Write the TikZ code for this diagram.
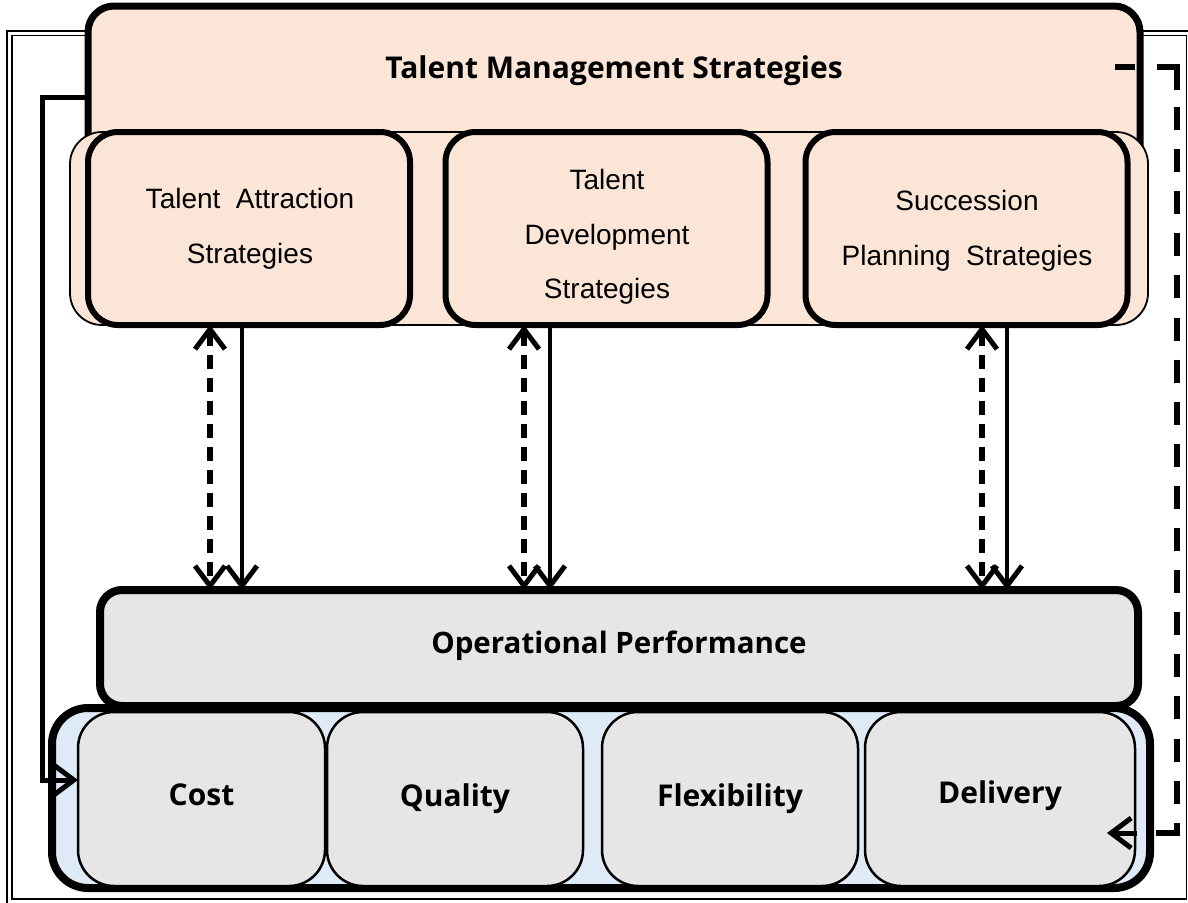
\documentclass[tikz,border=0pt]{standalone}
\usepackage{fontspec}
\setmainfont{Liberation Sans}
\newfontfamily\boldfam{Open Sans}
\usetikzlibrary{arrows.meta,calc}
\definecolor{peach}{HTML}{FBE5D6}
\definecolor{lgray}{HTML}{E6E6E6}
\definecolor{lblue}{HTML}{DEEBF7}
\begin{document}
\begin{tikzpicture}[x=1pt,y=-1pt,
  every node/.style={inner sep=0pt, outer sep=0pt},
  tmsbox/.style={draw, line width=7pt, rounded corners=26pt, fill=peach},
  titletext/.style={font=\boldfam\bfseries\fontsize{30}{34}\selectfont},
  stripbox/.style={draw, line width=1.8pt, rounded corners=32pt, fill=peach},
  subbox/.style={draw, line width=6pt, rounded corners=30pt, fill=peach,
    minimum width=322pt, minimum height=193pt},
  subtext/.style={align=center, font=\fontsize{28}{54.5}\selectfont},
  opbox/.style={draw, line width=8pt, rounded corners=22pt, fill=lgray,
    font=\boldfam\bfseries\fontsize{29.5}{34}\selectfont},
  contbox/.style={draw, line width=8pt, rounded corners=36pt, fill=lblue},
  perfbox/.style={draw, line width=2.5pt, rounded corners=36pt, fill=lgray,
    minimum height=174pt, font=\boldfam\bfseries\fontsize{30}{34}\selectfont},
  frameline/.style={draw, line width=1.6pt},
  >={Straight Barb[length=20pt,width=30pt,line width=5pt]},
  dasharrow/.style={line width=5.5pt, dash pattern=on 14pt off 9pt, <->},
  solidarrow/.style={line width=3.5pt, ->},
  conn/.style={line width=5pt, ->},
  dseg/.style={line width=5.5pt, line cap=butt, miter limit=4}
]
\useasboundingbox (0,0) rectangle (1188,902);
\fill[white] (0,0) rectangle (1188,902);
% outer double frame
\draw[frameline] (7,31) rectangle (1192,906);
\draw[frameline] (12,35.5) rectangle (1186.5,899);

% top block
\node[tmsbox, minimum width=1052pt, minimum height=182pt] (tms) at (614,97) {};
\node[titletext] (tmst) at (614,71) {Talent Management Strategies};
\node[stripbox, minimum width=1078pt, minimum height=193pt] (strip) at (609,228.5) {};
\node[subbox] (sa) at (249,228.5) {};
\node[subbox] (sd) at (606.5,228.5) {};
\node[subbox] (ss) at (966.5,228.5) {};
\node[subtext] (sat) at (250,229) {Talent\ \ Attraction\\Strategies};
\node[subtext] (sdt) at (607,237) {Talent\\Development\\Strategies};
\node[subtext] (sst) at (967,231) {Succession\\Planning\ \ Strategies};

% bottom block
\node[contbox, minimum width=1098pt, minimum height=180pt] (cont) at (601,798) {};
\node[perfbox, minimum width=247pt] (cost) at (201.5,799) {\raisebox{9pt}{Cost}};
\node[perfbox, minimum width=256pt] (quality) at (455,799) {\raisebox{5pt}{Quality}};
\node[perfbox, minimum width=256pt] (flex) at (730,799) {\raisebox{5pt}{Flexibility}};
\node[perfbox, minimum width=270pt] (deliv) at (1000,799) {\raisebox{14pt}{Delivery}};
\node[opbox, minimum width=1038pt, minimum height=116pt] (op) at (619,648) {\raisebox{11pt}{Operational Performance}};

% arrow columns
\coordinate (d1) at (210,0);
\coordinate (s1) at (242,0);
\coordinate (d2) at (524,0);
\coordinate (s2) at (550,0);
\coordinate (d3) at (982,0);
\coordinate (s3) at (1007,0);
\draw[dasharrow] (sa.south -| d1) -- (op.north -| d1);
\draw[solidarrow] (sa.south -| s1) -- (op.north -| s1);
\draw[dasharrow] (sd.south -| d2) -- (op.north -| d2);
\draw[solidarrow] (sd.south -| s2) -- (op.north -| s2);
\draw[dasharrow] (ss.south -| d3) -- (op.north -| d3);
\draw[solidarrow] (ss.south -| s3) -- (op.north -| s3);

% feedback connectors
\coordinate (lc) at (42,780);
\draw[conn] (tms.west) -| (lc) -- (cost.west |- lc);

% dashed feedback connector (dashes drawn one by one)
\coordinate (rs) at (1115,67);
\coordinate (rt) at (1177,67);
\coordinate (rc) at (1177,833);
\coordinate (re) at (1107,833);
\draw[dseg] (rs) -- ++(20,0);
\draw[dseg] ($(rt)+(-20,0)$) -- (rt) -- ++(0,23);
\foreach \k in {0,...,16} {
  \draw[dseg] ($(rt)+(0,40+42.1*\k)$) -- ++(0,23);
}
\draw[dseg] ($(rc)+(0,-10)$) -- (rc) -- ++(-21,0);
\draw[conn] ($(re)+(30,0)$) -- (re);
\end{tikzpicture}
\end{document}
